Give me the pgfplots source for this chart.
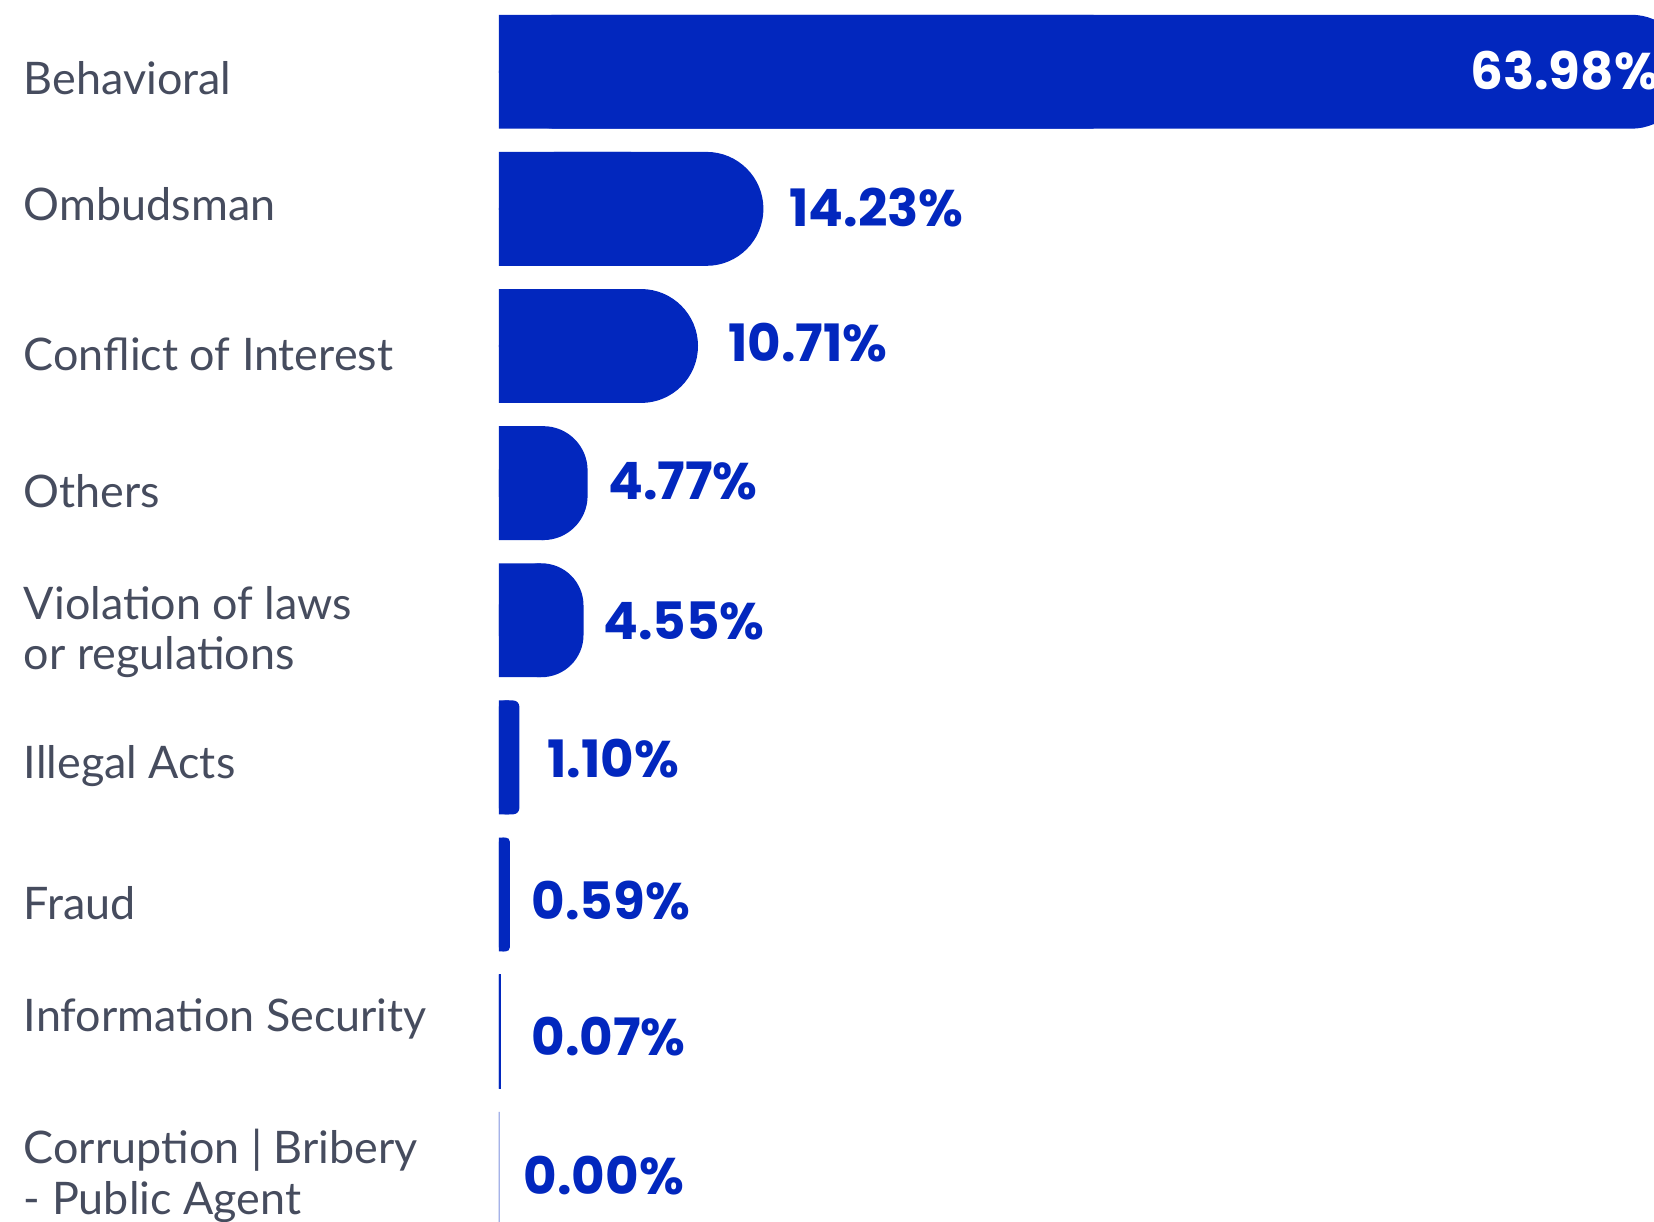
\documentclass[border=0pt]{standalone}
\usepackage{pgfplots}
\usepackage{pgfplotstable}
\pgfplotsset{compat=1.18}
\usepackage{fontspec}
\setmainfont{Lato}
\newfontfamily\numfont{Poppins}

\definecolor{barblue}{HTML}{0227BE}
\definecolor{labelgray}{HTML}{464C5E}

% share of reports per category (%)
\pgfplotstableread{
i v
0 63.98
1 14.23
2 10.71
3 4.77
4 4.55
5 1.10
6 0.59
7 0.07
8 0.00
}\shares

\pgfplotsset{
  share bar/.style={xbar, bar shift=0pt, bar width=10.8mm, fill=barblue, draw=none},
  share text/.style={point meta=x,
    nodes near coords={\pgfmathprintnumber[fixed,fixed zerofill,precision=2,assume math mode=true]{\pgfplotspointmeta}\%}},
  value label/.style 2 args={share text,
    every node near coord/.append style={anchor=base west, inner sep=0pt,
      xshift=#1, yshift=-#2, text=barblue,
      font=\numfont\bfseries\fontsize{13.9}{16}\selectfont}},
}

\begin{document}
\begin{tikzpicture}
\begin{axis}[
  at={(47.3mm,-0.3mm)}, anchor=north west,
  scale only axis, width=113.65mm, height=115.5mm,
  xmin=0, xmax=64.5, ymin=-0.5, ymax=8.385, y dir=reverse,
  axis line style={draw=none}, major tick length=0pt,
  xtick=\empty, ytick={0,...,8},
  yticklabels={
    {\raisebox{-2.2mm}{Behavioral}},
    {\raisebox{-1.1mm}{Ombudsman}},
    {\raisebox{-2.3mm}{Conflict of Interest}},
    {\raisebox{-2.3mm}{Others}},
    {\raisebox{0.1mm}{\begin{tabular}[t]{@{}l@{}}Violation of laws\\or regulations\end{tabular}}},
    {\raisebox{-2.0mm}{Illegal Acts}},
    {\raisebox{-2.4mm}{Fraud}},
    {\raisebox{0mm}{Information Security}},
    {\raisebox{0.5mm}{\begin{tabular}[t]{@{}l@{}}Corruption | Bribery\\- Public Agent\end{tabular}}}
  },
  yticklabel style={anchor=base west, inner sep=0pt, xshift=-45.1mm,
    text=labelgray, font=\fontsize{12.1}{13.66}\selectfont},
]
% square left halves, so only the right ends of the bars are rounded
\addplot[share bar] table[y=i, x expr=\thisrow{v}/2] {\shares};
% each bar with its own end radius and value label
\addplot[share bar, rounded corners=5.4mm, restrict y to domain=-0.2:0.2, share text,
  every node near coord/.append style={anchor=base east, inner sep=0pt,
    xshift=-2.7mm, yshift=-1.7mm, text=white,
    font=\numfont\bfseries\fontsize{13.9}{16}\selectfont}]
  table[y=i, x=v] {\shares};
\addplot[share bar, rounded corners=5.4mm, restrict y to domain=0.8:1.2, value label={2.4mm}{1.7mm}] table[y=i, x=v] {\shares};
\addplot[share bar, rounded corners=5.4mm, restrict y to domain=1.8:2.2, value label={2.8mm}{1.5mm}] table[y=i, x=v] {\shares};
\addplot[share bar, rounded corners=4.2mm, restrict y to domain=2.8:3.2, value label={1.9mm}{1.6mm}] table[y=i, x=v] {\shares};
\addplot[share bar, rounded corners=4.0mm, restrict y to domain=3.8:4.2, value label={1.8mm}{1.8mm}] table[y=i, x=v] {\shares};
\addplot[share bar, rounded corners=0.6mm, restrict y to domain=4.8:5.2, value label={2.6mm}{1.9mm}] table[y=i, x=v] {\shares};
\addplot[share bar, rounded corners=0.4mm, restrict y to domain=5.8:6.2, value label={2.0mm}{2.4mm}] table[y=i, x=v] {\shares};
\addplot[share bar, draw=barblue, line width=0.12mm, restrict y to domain=6.8:7.2, value label={2.9mm}{2.3mm}] table[y=i, x=v] {\shares};
\addplot[share bar, draw=barblue!35, line width=0.12mm, restrict y to domain=7.8:8.2, value label={2.3mm}{2.4mm}] table[y=i, x=v] {\shares};
\end{axis}
\pgfresetboundingbox
\useasboundingbox (0,0) rectangle (156.8mm,-115.8mm);
\end{tikzpicture}
\end{document}
